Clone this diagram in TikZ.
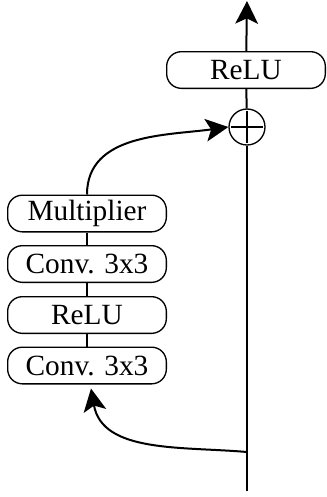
\documentclass[tikz,border=0pt]{standalone}
\usepackage{fontspec}
\setmainfont{Liberation Serif}
\usepackage{tikz}
\usetikzlibrary{arrows.meta, positioning, calc}

\begin{document}
\begin{tikzpicture}[x=0.75pt, y=-0.75pt,
    block/.style={rectangle, rounded corners=11pt, draw=black, line width=1pt,
          minimum width=119pt, minimum height=27.5pt, inner sep=0pt,
          font=\fontsize{22}{24}\selectfont},
    sum/.style={circle, draw=black, line width=1pt, minimum size=27pt, inner sep=0pt},
    flow/.style={line width=1.5pt, -{Stealth[length=17pt, width=17pt, inset=4pt]}},
    link/.style={line width=1.5pt}]
    \useasboundingbox (0,0) rectangle (326,497);

    % main path
    \coordinate (input) at (247,491);
    \coordinate (split) at (247,452);
    \coordinate (output) at (247,1);
    \node[sum] (add) at (247,127) {};
    \draw[line width=1.3pt] ($(add.west)+(3,0)$) -- ($(add.east)-(3,0)$);
    \draw[line width=1.3pt] ($(add.north)+(0,3)$) -- ($(add.south)-(0,3)$);
    \node[block] (relutop) at (246,70) {ReLU};

    % residual branch
    \node[block] (conva) at (87,365.5) {Conv. 3x3};
    \node[block] (relu) at (87,315) {ReLU};
    \node[block] (convb) at (87,264) {Conv. 3x3};
    \node[block] (mult) at (87,213.5) {Multiplier};

    \draw[link] (input) -- (add);
    \draw[link] (add) -- (relutop);
    \draw[flow] (relutop) -- (output);

    \draw[link] (conva) -- (relu);
    \draw[link] (relu) -- (convb);
    \draw[link] (convb) -- (mult);

    \draw[flow] (split) to[out=175, in=-80] ($(conva.south)+(4,4)$);
    \draw[flow] (mult.north) to[out=90, in=188] (add.west);
\end{tikzpicture}
\end{document}
